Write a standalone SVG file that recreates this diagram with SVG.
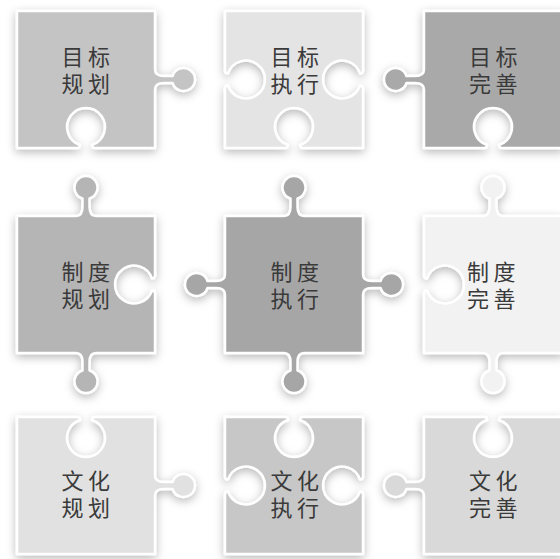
<svg xmlns="http://www.w3.org/2000/svg" width="560" height="559" viewBox="0 0 560 559">
<defs>
<filter id="sh" x="-45%" y="-45%" width="190%" height="190%">
<feDropShadow dx="0" dy="3" stdDeviation="5" flood-color="#000" flood-opacity="0.28"/>
</filter>
<style>
.p{stroke:#fff;stroke-width:2.5;stroke-linejoin:round;filter:url(#sh)}
.t{font-family:"Noto Sans CJK SC","Noto Sans",sans-serif;font-size:22px;font-weight:400;fill:#3a3a3a}
</style>
</defs>
<rect width="560" height="559" fill="#fff"/>
<g id="n1" transform="translate(17,11)">
<path class="p" fill="#c4c4c4" d="M0,0 L138,0 L138,58.5 C138,64.5 143,65 147,65 L155.55,65 A11.5 11.5 0 1 1 155.55,72 L147,72 C143,72 138,72.5 138,78.5 L138,137 L78,137 Q75,137 75,134 A19 19 0 1 0 63,134 Q63,137 60,137 L0,137 Z"/>
<text class="t"><tspan x="44.5 71" y="54">目标</tspan><tspan x="44.5 71" y="81">规划</tspan></text>
</g>
<g id="n2" transform="translate(225,11)">
<path class="p" fill="#e4e4e4" d="M0,0 L138,0 L138,59.5 Q138,62.5 135,62.5 A19 19 0 1 0 135,74.5 Q138,74.5 138,77.5 L138,137 L78,137 Q75,137 75,134 A19 19 0 1 0 63,134 Q63,137 60,137 L0,137 L0,77.5 Q0,74.5 3,74.5 A19 19 0 1 0 3,62.5 Q0,62.5 0,59.5 Z"/>
<text class="t"><tspan x="45.5 72" y="54">目标</tspan><tspan x="45.5 72" y="81">执行</tspan></text>
</g>
<g id="n3" transform="translate(424,11)">
<path class="p" fill="#a9a9a9" d="M0,0 L138,0 L138,137 L78,137 Q75,137 75,134 A19 19 0 1 0 63,134 Q63,137 60,137 L0,137 L0,78.5 C0,72.5 -5,72 -9,72 L-17.55,72 A11.5 11.5 0 1 1 -17.55,65 L-9,65 C-5,65 0,64.5 0,58.5 Z"/>
<text class="t"><tspan x="45 71.5" y="54">目标</tspan><tspan x="45 71.5" y="81">完善</tspan></text>
</g>
<g id="n4" transform="translate(17,216)">
<path class="p" fill="#b5b5b5" d="M0,0 L59,0 C65,0 65.5,-5 65.5,-9 L65.5,-17.55 A11.5 11.5 0 1 1 72.5,-17.55 L72.5,-9 C72.5,-5 73,0 79,0 L138,0 L138,59.5 Q138,62.5 135,62.5 A19 19 0 1 0 135,74.5 Q138,74.5 138,77.5 L138,137 L79,137 C73,137 72.5,142 72.5,146 L72.5,154.55 A11.5 11.5 0 1 1 65.5,154.55 L65.5,146 C65.5,142 65,137 59,137 L0,137 Z"/>
<text class="t"><tspan x="44.5 71" y="64">制度</tspan><tspan x="44.5 71" y="91">规划</tspan></text>
</g>
<g id="n5" transform="translate(225,216)">
<path class="p" fill="#a6a6a6" d="M0,0 L59,0 C65,0 65.5,-5 65.5,-9 L65.5,-17.55 A11.5 11.5 0 1 1 72.5,-17.55 L72.5,-9 C72.5,-5 73,0 79,0 L138,0 L138,58.5 C138,64.5 143,65 147,65 L155.55,65 A11.5 11.5 0 1 1 155.55,72 L147,72 C143,72 138,72.5 138,78.5 L138,137 L79,137 C73,137 72.5,142 72.5,146 L72.5,154.55 A11.5 11.5 0 1 1 65.5,154.55 L65.5,146 C65.5,142 65,137 59,137 L0,137 L0,78.5 C0,72.5 -5,72 -9,72 L-17.55,72 A11.5 11.5 0 1 1 -17.55,65 L-9,65 C-5,65 0,64.5 0,58.5 Z"/>
<text class="t"><tspan x="45.5 72" y="64">制度</tspan><tspan x="45.5 72" y="91">执行</tspan></text>
</g>
<g id="n6" transform="translate(424,216)">
<path class="p" fill="#f2f2f2" d="M0,0 L59,0 C65,0 65.5,-5 65.5,-9 L65.5,-17.55 A11.5 11.5 0 1 1 72.5,-17.55 L72.5,-9 C72.5,-5 73,0 79,0 L138,0 L138,137 L79,137 C73,137 72.5,142 72.5,146 L72.5,154.55 A11.5 11.5 0 1 1 65.5,154.55 L65.5,146 C65.5,142 65,137 59,137 L0,137 L0,77.5 Q0,74.5 3,74.5 A19 19 0 1 0 3,62.5 Q0,62.5 0,59.5 Z"/>
<text class="t"><tspan x="43 69.5" y="64">制度</tspan><tspan x="43 69.5" y="91">完善</tspan></text>
</g>
<g id="n7" transform="translate(17,417)">
<path class="p" fill="#e1e1e1" d="M0,0 L60,0 Q63,0 63,3 A19 19 0 1 0 75,3 Q75,0 78,0 L138,0 L138,58.5 C138,64.5 143,65 147,65 L155.55,65 A11.5 11.5 0 1 1 155.55,72 L147,72 C143,72 138,72.5 138,78.5 L138,137 L0,137 Z"/>
<text class="t"><tspan x="44.5 71" y="71.5">文化</tspan><tspan x="44.5 71" y="98.5">规划</tspan></text>
</g>
<g id="n8" transform="translate(225,417)">
<path class="p" fill="#c7c7c7" d="M0,0 L60,0 Q63,0 63,3 A19 19 0 1 0 75,3 Q75,0 78,0 L138,0 L138,59.5 Q138,62.5 135,62.5 A19 19 0 1 0 135,74.5 Q138,74.5 138,77.5 L138,137 L0,137 L0,77.5 Q0,74.5 3,74.5 A19 19 0 1 0 3,62.5 Q0,62.5 0,59.5 Z"/>
<text class="t"><tspan x="45.5 72" y="71.5">文化</tspan><tspan x="45.5 72" y="98.5">执行</tspan></text>
</g>
<g id="n9" transform="translate(424,417)">
<path class="p" fill="#d9d9d9" d="M0,0 L60,0 Q63,0 63,3 A19 19 0 1 0 75,3 Q75,0 78,0 L138,0 L138,137 L0,137 L0,78.5 C0,72.5 -5,72 -9,72 L-17.55,72 A11.5 11.5 0 1 1 -17.55,65 L-9,65 C-5,65 0,64.5 0,58.5 Z"/>
<text class="t"><tspan x="45 71.5" y="71.5">文化</tspan><tspan x="45 71.5" y="98.5">完善</tspan></text>
</g>
</svg>
